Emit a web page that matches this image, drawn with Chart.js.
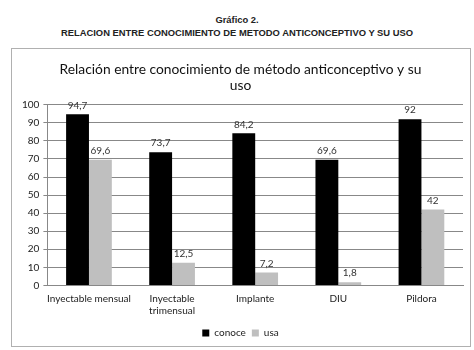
<!DOCTYPE html>
<html>
<head>
<meta charset="utf-8">
<script src="https://cdn.jsdelivr.net/npm/chart.js@4"></script>
<style>
  body { margin: 0; background: #fff; width: 474px; height: 350px; position: relative; font-family: "Liberation Sans", Arial, sans-serif; }
  .head { position: absolute; left: 0; width: 474px; text-align: center; font-weight: bold; font-size: 9.4px; color: #222; }
  #caja { position: absolute; left: 11px; top: 48px; width: 460px; height: 299px; border: 1px solid #b0b0b0; box-sizing: border-box; }
</style>
</head>
<body>
<div class="head" style="top:14px">Gráfico 2.</div>
<div class="head" style="top:27px">RELACION ENTRE CONOCIMIENTO DE METODO ANTICONCEPTIVO Y SU USO</div>
<div id="caja"><canvas id="grafico"></canvas></div>
<script>
const metodos = [['Inyectable mensual'], ['Inyectable', 'trimensual'], ['Implante'], ['DIU'], ['Pildora']];
const conoce = [94.7, 73.7, 84.2, 69.6, 92];
const usa = [69.6, 12.5, 7.2, 1.8, 42];

// etiquetas de valor encima de cada barra, con coma decimal
const etiquetas = {
    id: 'etiquetas',
    afterDatasetsDraw(chart) {
        const c = chart.ctx;
        c.save();
        c.font = '10px Lato';
        c.fillStyle = '#333';
        c.textAlign = 'center';
        c.textBaseline = 'bottom';
        chart.data.datasets.forEach((ds, i) => {
            chart.getDatasetMeta(i).data.forEach((bar, j) => {
                c.fillText(String(ds.data[j]).replace('.', ','), bar.x, bar.y - 4);
            });
        });
        c.restore();
    }
};

Chart.defaults.font.family = 'Lato';
Chart.defaults.color = '#222';

new Chart(document.getElementById('grafico'), {
    type: 'bar',
    data: {
        labels: metodos,
        datasets: [
            { label: 'conoce', data: conoce, backgroundColor: '#000000' },
            { label: 'usa', data: usa, backgroundColor: '#bfbfbf' }
        ]
    },
    options: {
        responsive: true,
        maintainAspectRatio: false,
        animation: false,
        layout: { padding: { left: 6, right: 7, top: 5, bottom: -2 } },
        datasets: { bar: { categoryPercentage: 0.55, barPercentage: 1 } },
        plugins: {
            title: {
                display: true,
                text: ['Relación entre conocimiento de método anticonceptivo y su', 'uso'],
                font: { size: 13.8, weight: 'normal', lineHeight: 1.15 },
                color: '#111',
                padding: { top: 8, bottom: 11 }
            },
            legend: {
                position: 'bottom',
                labels: { boxWidth: 7, boxHeight: 7, font: { size: 10 }, padding: 6 }
            },
            tooltip: { enabled: false }
        },
        scales: {
            x: {
                grid: { display: false },
                border: { color: '#888' },
                ticks: { font: { size: 10 }, maxRotation: 0, autoSkip: false, padding: -1 },
                title: { display: true, text: '', font: { size: 5.5 }, padding: 0 }
            },
            y: {
                min: 0,
                max: 100,
                ticks: { stepSize: 10, font: { size: 10 }, padding: 4 },
                grid: { color: '#888', tickLength: 4 },
                border: { color: '#888' }
            }
        }
    },
    plugins: [etiquetas]
});
</script>
</body>
</html>
